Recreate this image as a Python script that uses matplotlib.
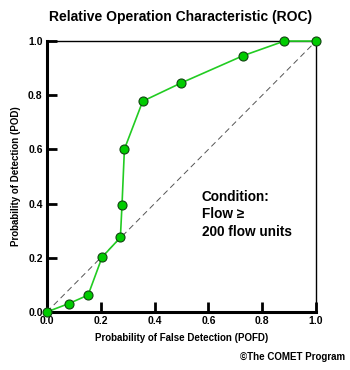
import matplotlib
matplotlib.use("Agg")
import matplotlib.pyplot as plt

pofd = [0.0, 0.082, 0.153, 0.205, 0.273, 0.279, 0.288, 0.356, 0.498, 0.729, 0.882, 1.0]
pod = [0.0, 0.031, 0.062, 0.202, 0.275, 0.394, 0.601, 0.778, 0.845, 0.946, 1.0, 1.0]
ticks = [0.0, 0.2, 0.4, 0.6, 0.8, 1.0]
tick_labels = ["0.0", "0.2", "0.4", "0.6", "0.8", "1.0"]

plt.rcParams['font.family'] = ['Liberation Sans', 'DejaVu Sans']

fig = plt.figure(figsize=(3.5, 3.7), dpi=100)
ax = fig.add_axes([0.134, 0.157, 0.769, 0.732])

ax.plot([0, 1], [0, 1], linestyle=(0, (6, 4)), color='#555555', linewidth=0.7, zorder=1)
ax.plot(pofd, pod, color='#22cc22', linewidth=1.2, marker='o', markersize=6.5,
        markerfacecolor='#00cc00', markeredgecolor='#114411', markeredgewidth=0.8,
        zorder=3, clip_on=False)

ax.set_xlim(0, 1)
ax.set_ylim(0, 1)
ax.set_xticks(ticks)
ax.set_yticks(ticks)
ax.set_xticklabels(tick_labels, fontsize=7.5, fontweight='bold')
ax.set_yticklabels(tick_labels, fontsize=7.5, fontweight='bold')
ax.tick_params(direction='in', length=7, width=2, pad=3)

for s in ['left', 'bottom']:
    ax.spines[s].set_linewidth(2.2)
for s in ['top', 'right']:
    ax.spines[s].set_linewidth(1.0)

ax.set_xlabel("Probability of False Detection (POFD)", fontsize=7, fontweight='bold', labelpad=5)
ax.set_ylabel("Probability of Detection (POD)", fontsize=7, fontweight='bold', labelpad=5)

fig.text(0.515, 0.955, "Relative Operation Characteristic (ROC)", ha='center', va='center',
         fontsize=10, fontweight='bold')

ax.text(0.576, 0.36, "Condition:\nFlow \u2265\n200 flow units", ha='left', va='center',
        fontsize=9.8, fontweight='bold', linespacing=1.3)

fig.text(0.985, 0.035, "\u00a9The COMET Program", ha='right', va='center',
         fontsize=7, fontweight='bold')

fig.savefig("out.png", dpi=100)
